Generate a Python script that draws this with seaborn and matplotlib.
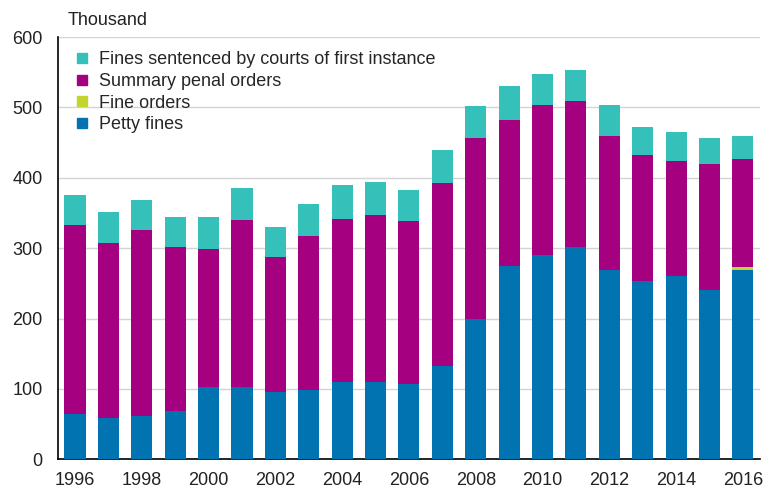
import matplotlib
matplotlib.use("Agg")
import matplotlib.pyplot as plt
from matplotlib.lines import Line2D
import seaborn as sns
import pandas as pd
import numpy as np

years = [str(y) for y in range(1996, 2017)]
petty_fines = [64, 59, 62, 68, 102, 102, 96, 98, 110, 110, 107, 132, 200, 274, 290, 301, 269, 253, 260, 240, 269]
fine_orders = [0, 0, 0, 0, 0, 0, 0, 0, 0, 0, 0, 0, 0, 0, 0, 0, 0, 0, 0, 0, 4]
summary_penal = [269, 249, 264, 233, 197, 238, 191, 219, 232, 237, 231, 261, 257, 208, 213, 208, 191, 180, 164, 180, 154]
courts = [43, 43, 43, 43, 45, 45, 43, 46, 48, 47, 45, 46, 45, 48, 44, 44, 44, 39, 41, 36, 33]

series_names = ["Petty fines", "Fine orders", "Summary penal orders",
                "Fines sentenced by courts of first instance"]
colors = ["#0073B0", "#C3D52D", "#A5007F", "#35C1BA"]

df = pd.DataFrame({
    "year": years,
    "Petty fines": petty_fines,
    "Fine orders": fine_orders,
    "Summary penal orders": summary_penal,
    "Fines sentenced by courts of first instance": courts,
})
cum = df[series_names].cumsum(axis=1)

sns.set_style("white")
plt.rcParams["font.family"] = ["Liberation Sans", "DejaVu Sans"]

fig = plt.figure(figsize=(7.63, 4.88), dpi=100)
ax = fig.add_axes([0.076, 0.059, 0.92, 0.865])

for name, col in reversed(list(zip(series_names, colors))):
    sns.barplot(x=df["year"], y=cum[name], color=col, width=0.63,
                linewidth=0, saturation=1, ax=ax, zorder=3)

ax.set_ylim(0, 600)
ax.set_yticks([0, 100, 200, 300, 400, 500, 600])
ax.set_xlim(-0.51, len(years) - 0.49)
ax.set_xticks(range(0, len(years), 2))
ax.set_xticklabels(years[::2])
ax.set_xlabel("")
ax.set_ylabel("")
ax.grid(axis="y", color="#d4d4d4", linewidth=1, zorder=0)
ax.set_axisbelow(True)
for s in ["top", "right"]:
    ax.spines[s].set_visible(False)
ax.spines["left"].set_color("black")
ax.spines["bottom"].set_color("black")
ax.spines["left"].set_linewidth(1.2)
ax.spines["bottom"].set_linewidth(1.2)
ax.tick_params(axis="both", length=0, labelsize=13, colors="#222222")
ax.tick_params(axis="y", pad=11)
ax.tick_params(axis="x", pad=9)

fig.text(0.088, 0.957, "Thousand", fontsize=13, color="#222222", va="center")

handles = [Line2D([], [], marker="s", linestyle="", markersize=7, color=c)
           for c in reversed(colors)]
ax.legend(handles, list(reversed(series_names)), loc="upper left",
          bbox_to_anchor=(-0.005, 1.005), frameon=False, fontsize=13,
          handletextpad=0.35, labelspacing=0.26, borderaxespad=0.5,
          handlelength=1.2)

fig.savefig("out.png", dpi=100)
